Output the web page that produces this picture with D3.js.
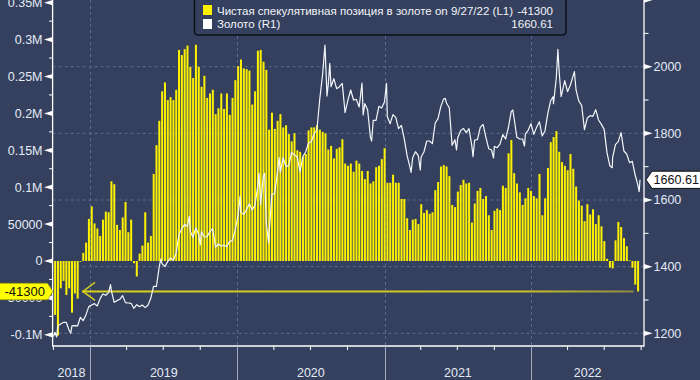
<!DOCTYPE html>
<html><head><meta charset="utf-8">
<script src="https://cdn.jsdelivr.net/npm/d3@7"></script>
<style>
html,body{margin:0;padding:0;background:#34405e;}
svg{display:block;}
text{font-family:"Liberation Sans",Arial,sans-serif;}
</style></head><body>
<svg id="c" width="700" height="380"></svg>
<script>
// ---- DATA ----
const positionValues = [
-73000,-101000,-37000,-27000,-46000,-37000,-70000,-44000,-51000,-1000,
11000,25000,57000,74000,51000,44000,34000,56000,67000,66000,
108000,104000,49000,42000,59000,80000,39000,56000,-3000,-21000,
10000,21000,66000,25000,34000,118000,157000,190000,230000,242000,
218000,222000,218000,232000,286000,279000,287000,292000,263000,248000,
293000,263000,236000,251000,221000,227000,232000,199000,207000,227000,
206000,227000,198000,221000,245000,264000,273000,261000,260000,258000,
212000,230000,285000,286000,270000,259000,178000,201000,179000,190000,
199000,181000,184000,172000,162000,173000,150000,148000,141000,145000,
177000,181000,181000,184000,178000,175000,173000,151000,156000,139000,
152000,154000,165000,132000,129000,132000,121000,136000,132000,122000,
111000,122000,105000,108000,127000,129000,138000,153000,106000,106000,
117000,106000,106000,84000,84000,58000,42000,56000,57000,50000,
77000,65000,69000,64000,66000,96000,107000,128000,130000,128000,
115000,76000,73000,94000,103000,110000,105000,106000,52000,78000,
95000,99000,84000,88000,62000,42000,68000,71000,69000,102000,
99000,146000,164000,119000,105000,93000,76000,85000,99000,95000,
88000,85000,118000,62000,85000,126000,161000,168000,176000,148000,
134000,129000,123000,145000,125000,101000,82000,75000,54000,77000,
63000,70000,50000,62000,47000,27000,3000,-9000,-10000,28000,
53000,46000,31000,20000,1000,-9000,-32000,-41300
];
const positionLastDate = "2022-09-27";

const goldData = [
["2018-10-01",1190],["2018-10-05",1203],["2018-10-09",1189],["2018-10-12",1222],["2018-10-19",1228],["2018-10-26",1233],
["2018-11-02",1233],["2018-11-09",1209],["2018-11-13",1200],["2018-11-16",1222],["2018-11-23",1223],["2018-11-30",1222],
["2018-12-07",1248],["2018-12-14",1238],["2018-12-21",1256],["2018-12-28",1280],
["2019-01-04",1285],["2019-01-11",1289],["2019-01-18",1282],["2019-01-25",1304],["2019-02-01",1318],["2019-02-08",1314],
["2019-02-15",1322],["2019-02-20",1346],["2019-02-22",1328],["2019-03-01",1293],["2019-03-08",1298],["2019-03-15",1302],
["2019-03-22",1313],["2019-03-29",1292],["2019-04-05",1291],["2019-04-12",1290],["2019-04-19",1275],["2019-04-26",1286],
["2019-05-03",1280],["2019-05-10",1285],["2019-05-17",1277],["2019-05-24",1284],["2019-05-31",1305],["2019-06-07",1341],
["2019-06-14",1341],["2019-06-21",1399],["2019-06-25",1423],["2019-06-28",1409],["2019-07-05",1400],["2019-07-12",1415],
["2019-07-19",1426],["2019-07-26",1419],["2019-08-02",1440],["2019-08-09",1496],["2019-08-16",1513],["2019-08-23",1527],
["2019-08-30",1520],["2019-09-04",1552],["2019-09-06",1506],["2019-09-13",1488],["2019-09-20",1517],["2019-09-27",1497],
["2019-10-01",1465],["2019-10-04",1505],["2019-10-11",1489],["2019-10-18",1490],["2019-10-25",1505],["2019-11-01",1514],
["2019-11-08",1459],["2019-11-15",1468],["2019-11-22",1462],["2019-11-29",1464],["2019-12-06",1460],["2019-12-13",1476],
["2019-12-20",1478],["2019-12-27",1511],
["2020-01-03",1552],["2020-01-08",1611],["2020-01-10",1562],["2020-01-17",1557],["2020-01-24",1571],["2020-01-31",1589],
["2020-02-07",1570],["2020-02-14",1584],["2020-02-21",1643],["2020-02-24",1680],["2020-02-28",1586],["2020-03-06",1673],
["2020-03-09",1680],["2020-03-13",1530],["2020-03-19",1471],["2020-03-20",1498],["2020-03-27",1617],["2020-04-03",1620],
["2020-04-10",1684],["2020-04-14",1727],["2020-04-17",1683],["2020-04-24",1727],["2020-05-01",1700],["2020-05-08",1703],
["2020-05-15",1743],["2020-05-22",1735],["2020-05-29",1730],["2020-06-05",1684],["2020-06-12",1730],["2020-06-19",1744],
["2020-06-26",1771],["2020-07-03",1775],["2020-07-10",1798],["2020-07-17",1810],["2020-07-24",1902],["2020-07-31",1975],
["2020-08-06",2065],["2020-08-07",2035],["2020-08-11",1912],["2020-08-14",1944],["2020-08-18",2010],["2020-08-21",1940],
["2020-08-28",1964],["2020-09-04",1934],["2020-09-11",1940],["2020-09-18",1950],["2020-09-25",1862],["2020-10-02",1900],
["2020-10-09",1930],["2020-10-16",1900],["2020-10-23",1902],["2020-10-30",1879],["2020-11-06",1951],["2020-11-09",1855],
["2020-11-13",1889],["2020-11-20",1871],["2020-11-27",1788],["2020-11-30",1777],["2020-12-04",1839],["2020-12-11",1839],
["2020-12-18",1881],["2020-12-25",1876],
["2021-01-01",1895],["2021-01-06",1950],["2021-01-08",1850],["2021-01-15",1829],["2021-01-22",1856],["2021-01-29",1848],
["2021-02-05",1814],["2021-02-12",1824],["2021-02-19",1784],["2021-02-26",1734],["2021-03-05",1700],["2021-03-08",1683],
["2021-03-12",1727],["2021-03-19",1745],["2021-03-26",1733],["2021-03-31",1690],["2021-04-02",1729],["2021-04-09",1744],
["2021-04-16",1777],["2021-04-23",1777],["2021-04-30",1769],["2021-05-07",1831],["2021-05-14",1844],["2021-05-21",1881],
["2021-05-28",1903],["2021-06-01",1905],["2021-06-04",1891],["2021-06-11",1877],["2021-06-18",1764],["2021-06-25",1781],
["2021-06-29",1750],["2021-07-02",1787],["2021-07-09",1808],["2021-07-16",1815],["2021-07-23",1802],["2021-07-30",1814],
["2021-08-06",1763],["2021-08-09",1730],["2021-08-13",1780],["2021-08-20",1781],["2021-08-27",1818],["2021-09-03",1827],
["2021-09-10",1788],["2021-09-17",1754],["2021-09-24",1750],["2021-09-29",1726],["2021-10-01",1761],["2021-10-08",1757],
["2021-10-15",1768],["2021-10-22",1796],["2021-10-29",1783],["2021-11-05",1818],["2021-11-12",1865],["2021-11-16",1870],
["2021-11-19",1846],["2021-11-26",1788],["2021-12-03",1783],["2021-12-10",1783],["2021-12-15",1762],["2021-12-17",1798],
["2021-12-24",1809],["2021-12-31",1829],
["2022-01-07",1797],["2022-01-14",1818],["2022-01-21",1835],["2022-01-28",1792],["2022-02-04",1808],["2022-02-11",1860],
["2022-02-18",1898],["2022-02-24",1910],["2022-02-25",1889],["2022-03-04",1966],["2022-03-08",2052],["2022-03-11",1988],
["2022-03-16",1910],["2022-03-18",1921],["2022-03-25",1958],["2022-04-01",1925],["2022-04-08",1945],["2022-04-18",1985],
["2022-04-22",1931],["2022-04-29",1897],["2022-05-06",1884],["2022-05-13",1811],["2022-05-20",1846],["2022-05-27",1853],
["2022-06-03",1851],["2022-06-10",1871],["2022-06-17",1840],["2022-06-24",1827],["2022-07-01",1812],["2022-07-08",1742],
["2022-07-15",1703],["2022-07-21",1697],["2022-07-22",1727],["2022-07-29",1766],["2022-08-05",1775],["2022-08-12",1802],
["2022-08-19",1747],["2022-08-26",1738],["2022-09-02",1712],["2022-09-09",1716],["2022-09-16",1675],["2022-09-23",1644],
["2022-09-26",1625],["2022-09-28",1660.61]
];

const leftTicks = [-100000,-50000,0,50000,100000,150000,200000,250000,300000,350000];
const leftTickLabels = ["-0.1M","-50000","0","50000","0.1M","0.15M","0.2M","0.25M","0.3M","0.35M"];
const rightTicks = [1200,1400,1600,1800,2000,2200];
const rightTickLabels = ["1200","1400","1600","1800","2000",""];
const legendLabels = ["Чистая спекулятивная позиция в золоте on 9/27/22 (L1)","Золото (R1)"];
const lastPosition = -41300;
const lastGold = 1660.61;
const lastPositionLabel = "-41300";
const lastGoldLabel = "1660.61";

// ---- STYLE ----
const BG = "#34405e", YEL = "#fff200", AX = "#ffffff", TXT = "#e4ebf6", GRID = "#5b6b8e";
const parse = d3.utcParse("%Y-%m-%d");
const svg = d3.select("#c");
svg.append("rect").attr("width",700).attr("height",380).attr("fill",BG);

const L = 52.6, R = 644, T = 0, B = 346;
const x = d3.scaleUtc().domain([parse("2018-09-29"), parse("2022-10-08")]).range([L, R]);
const yL = d3.scaleLinear().domain([-100000, 350000]).range([334.8, 2.7]);
const yR = d3.scaleLinear().domain([1200, 2000]).range([333.3, 66.7]);

// grid
const g = svg.append("g");
rightTicks.filter(v=>v<=2000).forEach(v=>{
  g.append("line").attr("x1",L).attr("x2",R).attr("y1",yR(v)).attr("y2",yR(v))
   .attr("stroke",GRID).attr("stroke-dasharray","3,3").attr("stroke-width",1);
});
const years = d3.utcYear.range(parse("2019-01-01"), parse("2022-12-31"));
years.forEach(d=>{
  const xx = Math.round(x(d))+0.5;
  g.append("line").attr("x1",xx).attr("x2",xx).attr("y1",T).attr("y2",B)
   .attr("stroke",GRID).attr("stroke-dasharray","3,3");
});

// bars
const lastD = parse(positionLastDate);
const n = positionValues.length;
const bars = positionValues.map((v,i)=>({d:d3.utcDay.offset(lastD, -7*(n-1-i)), v}));
svg.append("g").selectAll("rect").data(bars).join("rect")
  .attr("x", d=>x(d.d)-2.5).attr("width",2)
  .attr("y", d=>yL(Math.max(0,d.v))).attr("height", d=>Math.abs(yL(d.v)-yL(0)))
  .attr("fill",YEL);

// reference line for last position
const grad = svg.append("defs").append("linearGradient").attr("id","rl").attr("x1","0").attr("x2","1");
grad.append("stop").attr("offset","0").attr("stop-color","#d9d21c");
grad.append("stop").attr("offset","0.8").attr("stop-color","#c9c125");
grad.append("stop").attr("offset","1").attr("stop-color","#8e8b46");
const ry = yL(lastPosition);
svg.append("rect").attr("x",82).attr("y",ry-1).attr("width",x(lastD)-6-82).attr("height",2).attr("fill","url(#rl)");
svg.append("path").attr("d",`M95,${ry-9}L83,${ry}L95,${ry+9}`).attr("fill","none").attr("stroke","#d2cb1e").attr("stroke-width",1.6);

// gold line
const gold = goldData.map(([d,v])=>({d:parse(d),v}));
svg.append("path").datum(gold)
  .attr("d", d3.line().x(d=>x(d.d)).y(d=>yR(d.v)))
  .attr("fill","none").attr("stroke","#f4f6fa").attr("stroke-width",1.2).attr("stroke-linejoin","round");

// axes lines
svg.append("line").attr("x1",L).attr("x2",L).attr("y1",0).attr("y2",B+0.5).attr("stroke",AX).attr("stroke-width",1.3);
svg.append("line").attr("x1",R).attr("x2",R).attr("y1",0).attr("y2",B+0.5).attr("stroke",AX).attr("stroke-width",1.3);
svg.append("line").attr("x1",L).attr("x2",R).attr("y1",B).attr("y2",B).attr("stroke",AX).attr("stroke-width",1.3);

// left axis ticks
leftTicks.forEach((v,i)=>{
  const y = yL(v);
  svg.append("path").attr("d",`M${L},${y-2.6}L${L},${y+2.6}L${L-8.6},${y}Z`).attr("fill",AX);
  svg.append("text").attr("x",42.5).attr("y",y+4.4).attr("text-anchor","end")
    .attr("font-size",12.5).attr("fill",TXT).text(leftTickLabels[i]);
  if (i < leftTicks.length-1) {
    const ym = yL((v+leftTicks[i+1])/2);
    svg.append("line").attr("x1",L-3.6).attr("x2",L).attr("y1",ym).attr("y2",ym).attr("stroke",AX);
  }
});
// right axis ticks
rightTicks.forEach((v,i)=>{
  const y = yR(v);
  svg.append("path").attr("d",`M${R},${y-2.6}L${R},${y+2.6}L${R+8.6},${y}Z`).attr("fill",AX);
  svg.append("text").attr("x",653.5).attr("y",y+4.4).attr("font-size",12.5).attr("fill",TXT).text(rightTickLabels[i]);
  if (i < rightTicks.length-1) {
    const ym = yR((v+rightTicks[i+1])/2);
    svg.append("line").attr("x1",R).attr("x2",R+4.5).attr("y1",ym).attr("y2",ym).attr("stroke",AX);
  }
});

// x axis
x.ticks(d3.utcMonth.every(3)).forEach(d=>{
  const xx = x(d);
  if (d.getUTCMonth()===0) {
    svg.append("line").attr("x1",Math.round(xx)+0.5).attr("x2",Math.round(xx)+0.5).attr("y1",B).attr("y2",380)
      .attr("stroke","#a3abbb").attr("stroke-width",1);
  } else {
    svg.append("line").attr("x1",xx).attr("x2",xx).attr("y1",B).attr("y2",B+4).attr("stroke",AX);
  }
});
const [d0,d1] = x.domain();
d3.utcYear.range(d3.utcYear.floor(d0), d1).forEach(d=>{
  const a = d < d0 ? d0 : d;
  const e = d3.utcYear.offset(d,1); const b = e > d1 ? d1 : e;
  svg.append("text").attr("x",(x(a)+x(b))/2).attr("y",376.5).attr("text-anchor","middle")
    .attr("font-size",12.5).attr("fill",TXT).text(d.getUTCFullYear());
});

// legend
const lg = svg.append("g");
lg.append("rect").attr("x",194.5).attr("y",-4).attr("width",371.5).attr("height",39).attr("rx",3.5)
  .attr("fill",BG).attr("stroke","#0c0f18").attr("stroke-width",1.5);
lg.append("rect").attr("x",203).attr("y",5).attr("width",9).attr("height",10).attr("fill",YEL);
lg.append("rect").attr("x",203).attr("y",19).attr("width",9).attr("height",10).attr("fill","#ffffff");
const LFONT = '"Liberation Sans Narrow","Liberation Sans",Arial,sans-serif';
const t1 = lg.append("text").attr("x",217).attr("y",14.5).attr("fill","#f2f4f8").text(legendLabels[0]);
const t2 = lg.append("text").attr("x",217).attr("y",28.3).attr("fill","#f2f4f8").text(legendLabels[1]);
const v1 = lg.append("text").attr("x",553).attr("y",14.5).attr("text-anchor","end").attr("fill","#f2f4f8").text(lastPositionLabel);
const v2 = lg.append("text").attr("x",553).attr("y",28.3).attr("text-anchor","end").attr("fill","#f2f4f8").text(lastGoldLabel);
[t1,t2,v1,v2].forEach(t=>t.style("font-family",LFONT).attr("font-size",13.4));
const w = t1.node().getComputedTextLength();
const fs = 13.4*296/w;
[t1,t2,v1,v2].forEach(t=>t.attr("font-size",fs));

// left flag
svg.append("path").attr("d",`M-2,${ry-8.3}L47.5,${ry-8.3}L53,${ry}L47.5,${ry+8.3}L-2,${ry+8.3}Z`)
  .attr("fill","#ffff00").attr("stroke","#8a8500").attr("stroke-width",0.6);
svg.append("text").attr("x",45).attr("y",ry+4.6).attr("text-anchor","end").attr("font-size",13).attr("fill","#111").text(lastPositionLabel);
// right flag
const gy = yR(lastGold);
svg.append("path").attr("d",`M646,${gy}L652,${gy-8.6}L702,${gy-8.6}L702,${gy+8.6}L652,${gy+8.6}Z`)
  .attr("fill","#ffffff").attr("stroke","#111").attr("stroke-width",1);
svg.append("text").attr("x",653.5).attr("y",gy+4.5).attr("font-size",12.6).attr("fill","#111").text(lastGoldLabel);
</script>
</body></html>
